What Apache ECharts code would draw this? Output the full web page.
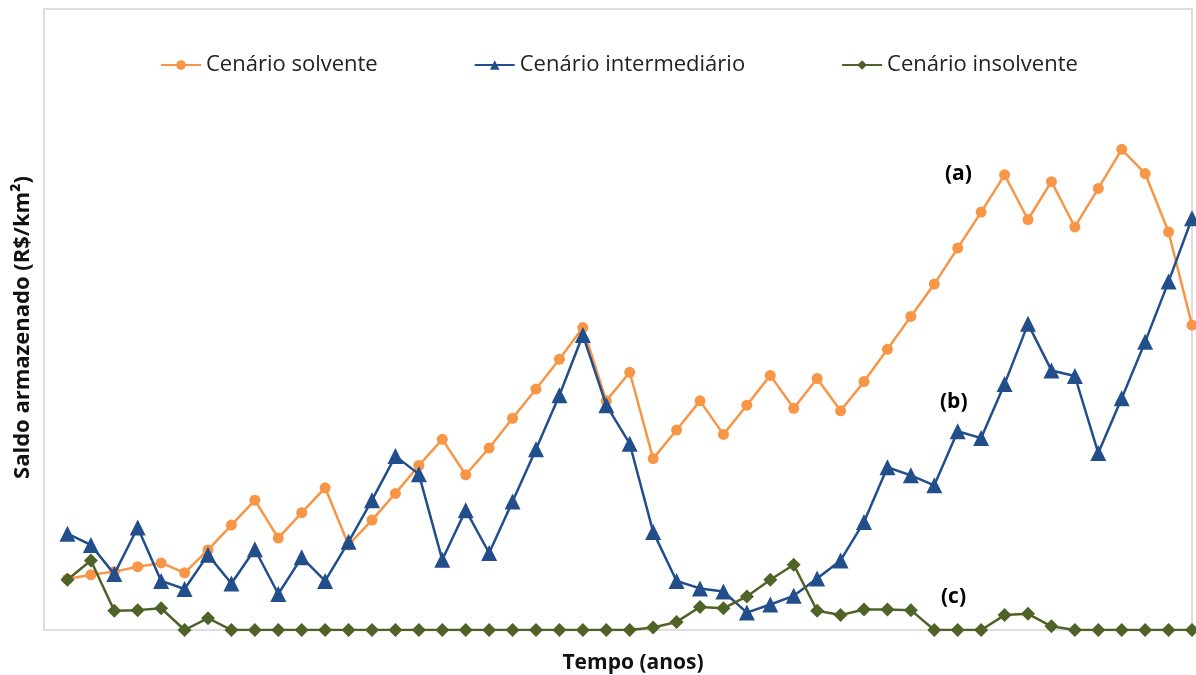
<!DOCTYPE html>
<html>
<head>
<meta charset="utf-8">
<script src="https://cdn.jsdelivr.net/npm/echarts@6/dist/echarts.min.js"></script>
<style>
  html, body { margin: 0; padding: 0; background: #ffffff; }
  #chart { width: 1196px; height: 675px; }
</style>
</head>
<body>
<div id="chart"></div>
<script>
// Anos da simulação (1 a 49)
const anos = Array.from({ length: 49 }, (_, i) => i + 1);

// Saldo armazenado por cenário (escala relativa, 0–100)
const solvente = [
  8.2, 8.9, 9.4, 10.2, 10.8, 9.2, 12.9, 16.9, 20.9, 14.8,
  18.9, 22.9, 13.7, 17.7, 22.0, 26.5, 30.7, 25.0, 29.3, 34.1,
  38.8, 43.6, 48.7, 36.9, 41.5, 27.6, 32.2, 36.9, 31.5, 36.2,
  41.0, 35.7, 40.5, 35.3, 40.0, 45.2, 50.5, 55.7, 61.5, 67.3,
  73.3, 66.1, 72.2, 64.9, 71.1, 77.4, 73.5, 64.1, 49.1
];
const intermediario = [
  15.5, 13.7, 9.0, 16.5, 7.9, 6.6, 12.1, 7.5, 13.0, 5.8,
  11.7, 7.9, 14.2, 20.9, 28.0, 25.1, 11.3, 19.3, 12.4, 20.7,
  29.1, 37.8, 47.5, 36.2, 30.0, 15.8, 7.9, 6.7, 6.2, 2.8,
  4.1, 5.5, 8.3, 11.2, 17.4, 26.2, 24.9, 23.3, 32.0, 30.9,
  39.6, 49.3, 41.8, 40.9, 28.5, 37.3, 46.4, 56.1, 66.3
];
const insolvente = [
  8.1, 11.2, 3.1, 3.2, 3.5, 0, 1.9, 0, 0, 0,
  0, 0, 0, 0, 0, 0, 0, 0, 0, 0,
  0, 0, 0, 0, 0, 0.4, 1.3, 3.7, 3.5, 5.4,
  8.1, 10.5, 3.1, 2.4, 3.3, 3.3, 3.2, 0, 0, 0,
  2.4, 2.6, 0.6, 0, 0, 0, 0, 0, 0
];

const nomes = ['Cenário solvente', 'Cenário intermediário', 'Cenário insolvente'];
const cores = ['#F79646', '#224E8B', '#4F6228'];

const pares = vals => anos.map((a, i) => [a, vals[i]]);

const chart = echarts.init(document.getElementById('chart'), null, { renderer: 'canvas' });

const fonte = '"Open Sans", "Noto Sans", sans-serif';

chart.setOption({
  animation: false,
  backgroundColor: '#ffffff',
  textStyle: { fontFamily: fonte },
  grid: {
    left: 44, right: 4, top: 9, bottom: 45,
    outerBoundsMode: 'none', containLabel: false,
    show: true, borderColor: '#D4D4D4', borderWidth: 1.5, backgroundColor: 'transparent'
  },
  legend: {
    top: 49,
    left: 155,
    itemGap: 96,
    itemWidth: 40,
    itemHeight: 12,
    textStyle: { fontSize: 22, color: '#222222', fontFamily: fonte },
    data: nomes
  },
  xAxis: {
    type: 'value', min: 0, max: 49,
    name: 'Tempo (anos)', nameLocation: 'middle', nameGap: 23,
    nameTextStyle: {
      fontSize: 21, fontWeight: 'bold', color: '#111111', fontFamily: fonte,
      padding: [0, 0, 0, 30]
    },
    axisLine: { show: false }, axisTick: { show: false },
    axisLabel: { show: false }, splitLine: { show: false }
  },
  yAxis: {
    type: 'value', min: 0, max: 100,
    name: 'Saldo armazenado (R$/km²)', nameLocation: 'middle', nameGap: 10,
    nameTextStyle: {
      fontSize: 22, fontWeight: 'bold', color: '#111111', fontFamily: fonte,
      padding: [0, 16, 0, 0]
    },
    axisLine: { show: false }, axisTick: { show: false },
    axisLabel: { show: false }, splitLine: { show: false }
  },
  series: [
    {
      name: nomes[0], type: 'line', data: pares(solvente),
      symbol: 'circle', symbolSize: 11, z: 3,
      lineStyle: { color: cores[0], width: 2.5 },
      itemStyle: { color: cores[0] }
    },
    {
      name: nomes[1], type: 'line', data: pares(intermediario),
      symbol: 'triangle', symbolSize: 16, z: 4,
      lineStyle: { color: cores[1], width: 2.5 },
      itemStyle: { color: cores[1] }
    },
    {
      name: nomes[2], type: 'line', data: pares(insolvente),
      symbol: 'diamond', symbolSize: 14, z: 5,
      lineStyle: { color: cores[2], width: 2.5 },
      itemStyle: { color: cores[2] }
    }
  ],
  graphic: [
    { type: 'text', left: 945, top: 164, style: { text: '(a)', font: 'bold 21px ' + fonte, fill: '#000000' } },
    { type: 'text', left: 940, top: 392, style: { text: '(b)', font: 'bold 21px ' + fonte, fill: '#000000' } },
    { type: 'text', left: 941, top: 587, style: { text: '(c)', font: 'bold 21px ' + fonte, fill: '#000000' } }
  ]
});
</script>
</body>
</html>
